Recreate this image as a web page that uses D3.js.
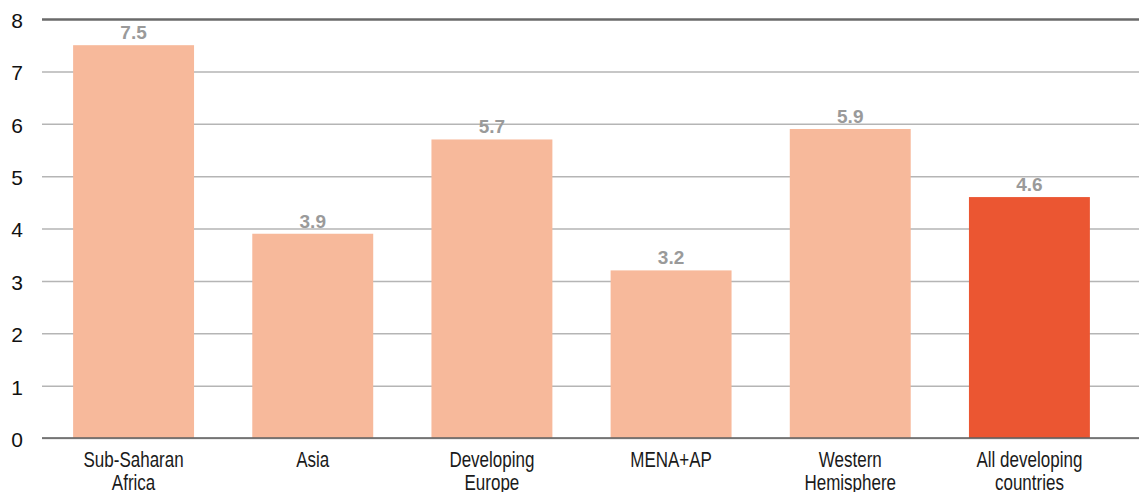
<!DOCTYPE html>
<html>
<head>
  <meta charset="utf-8">
  <title>Bar chart by region</title>
  <script src="https://cdn.jsdelivr.net/npm/d3@7"></script>
  <style>
    body { margin: 0; background: #fff; }
    svg { display: block; font-family: "Liberation Sans", Arial, Helvetica, sans-serif; }
  </style>
</head>
<body>
<script>
  // chart data
  var categories = ["Sub-Saharan Africa", "Asia", "Developing Europe", "MENA+AP", "Western Hemisphere", "All developing countries"];
  var values = [7.5, 3.9, 5.7, 3.2, 5.9, 4.6];
  var valueLabels = ["7.5", "3.9", "5.7", "3.2", "5.9", "4.6"];
  var yTicks = [0, 1, 2, 3, 4, 5, 6, 7, 8];
  var highlight = "All developing countries";

  // dimensions
  var width = 1139, height = 492;
  var gridLeft = 42;

  var svg = d3.select("body").append("svg")
    .attr("width", width)
    .attr("height", height);

  var x = d3.scaleBand()
    .domain(categories)
    .range([44, 1119])
    .paddingInner(0.325)
    .paddingOuter(0.1625);

  var y = d3.scaleLinear()
    .domain([0, 8])
    .range([438, 19]);

  // gridlines + y labels
  var yAxis = d3.axisLeft(y)
    .tickValues(yTicks)
    .tickSize(-(width - gridLeft))
    .tickPadding(19)
    .tickFormat(d3.format("d"));

  var gy = svg.append("g")
    .attr("transform", "translate(" + gridLeft + ",0)")
    .call(yAxis);

  gy.select(".domain").remove();
  gy.selectAll(".tick line")
    .attr("stroke", function(d) { return d === 8 ? "#6a6a6a" : "#b5b5b5"; })
    .attr("stroke-width", function(d) { return d === 8 ? 2.5 : 1.5; });
  gy.selectAll(".tick text")
    .attr("fill", "#111")
    .attr("dy", "0.4em")
    .style("font-size", "21px");

  var rows = categories.map(function(c, i) {
    return { cat: c, val: values[i], label: valueLabels[i] };
  });

  // bars
  svg.selectAll("rect.bar").data(rows).enter().append("rect")
    .attr("class", "bar")
    .attr("x", function(d) { return x(d.cat); })
    .attr("width", x.bandwidth())
    .attr("y", function(d) { return y(d.val); })
    .attr("height", function(d) { return y(0) - y(d.val); })
    .attr("fill", function(d) { return d.cat === highlight ? "#eb5632" : "#f7b99b"; });

  // baseline
  svg.append("line")
    .attr("x1", gridLeft).attr("x2", width)
    .attr("y1", y(0)).attr("y2", y(0))
    .attr("stroke", "#5f5f5f")
    .attr("stroke-width", 1.5);

  // value labels
  svg.selectAll("text.val").data(rows).enter().append("text")
    .attr("class", "val")
    .attr("text-anchor", "middle")
    .attr("x", function(d) { return x(d.cat) + x.bandwidth() / 2; })
    .attr("y", function(d) { return y(d.val) - 6; })
    .attr("fill", "#9a9a9a")
    .style("font-size", "19px")
    .style("font-weight", "bold")
    .text(function(d) { return d.label; });

  // category labels, wrapped into lines
  var lab = svg.selectAll("g.cat").data(categories).enter().append("g")
    .attr("class", "cat")
    .attr("transform", function(d) {
      return "translate(" + (x(d) + x.bandwidth() / 2) + ",466.5)";
    });

  lab.each(function(d) {
    var g = d3.select(this);
    var words = d.split(" ");
    var lines = [];
    var cur = [];
    var probe = g.append("text").style("font-size", "17px");
    words.forEach(function(w) {
      var test = cur.concat([w]).join(" ");
      probe.text(test);
      if (cur.length && probe.node().getComputedTextLength() > 120) {
        lines.push(cur.join(" "));
        cur = [w];
      } else {
        cur.push(w);
      }
    });
    lines.push(cur.join(" "));
    probe.remove();

    lines.forEach(function(l, i) {
      g.append("text")
        .attr("text-anchor", "middle")
        .attr("transform", "translate(0," + (i * 23) + ") scale(1,1.33)")
        .attr("fill", "#1a1a1a")
        .style("font-size", "17px")
        .text(l);
    });
  });
</script>
</body>
</html>
